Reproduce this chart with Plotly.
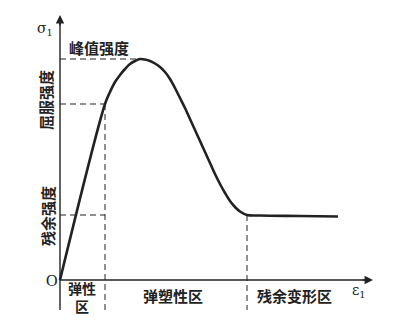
import plotly.graph_objects as go

# Stress-strain curve (units: arbitrary, origin at O)
strain = [0, 45, 50, 55, 60, 65, 70, 75, 80, 85, 90, 95, 100, 105, 110, 115, 120,
          125, 130, 135, 140, 145, 150, 155, 160, 165, 170, 175, 180, 187, 200, 240, 278]
stress = [0, 176, 188, 198, 205, 211, 216, 219, 221, 220.5, 219, 216.5, 213, 208, 201,
          192, 182, 172, 161, 150, 139, 128, 117, 106, 96, 87, 79, 73, 68.5, 65, 64.5, 64, 63.5]

peak = (80, 221)        # 峰值强度
yield_pt = (45, 176)    # 屈服强度
resid = (187, 65)       # 残余强度 start of residual zone
axis_len_x = 313
axis_len_y = 265
label_bottom = -30

ink = "#222222"
cjk = "Noto Sans CJK SC"

fig = go.Figure()
fig.add_trace(go.Scatter(x=strain, y=stress, mode="lines",
                         line=dict(color=ink, width=2.6, shape="spline", smoothing=1.0),
                         hoverinfo="skip", showlegend=False))

shapes = []
# axes
shapes.append(dict(type="line", x0=0, y0=label_bottom, x1=0, y1=axis_len_y - 4,
                   line=dict(color=ink, width=1.4)))
shapes.append(dict(type="line", x0=0, y0=0, x1=axis_len_x - 4, y1=0,
                   line=dict(color=ink, width=1.4)))
dash = dict(color=ink, width=1, dash="6px,4px")
# horizontal dashed
shapes.append(dict(type="line", x0=0, y0=peak[1], x1=peak[0], y1=peak[1], line=dash))
shapes.append(dict(type="line", x0=0, y0=yield_pt[1], x1=yield_pt[0], y1=yield_pt[1], line=dash))
shapes.append(dict(type="line", x0=0, y0=resid[1], x1=yield_pt[0], y1=resid[1], line=dash))
# vertical dashed
shapes.append(dict(type="line", x0=yield_pt[0], y0=yield_pt[1], x1=yield_pt[0], y1=label_bottom, line=dash))
shapes.append(dict(type="line", x0=resid[0], y0=resid[1], x1=resid[0], y1=label_bottom, line=dash))

ann = []
# arrowheads
ann.append(dict(x=0, y=axis_len_y, ax=0, ay=axis_len_y - 12, xref="x", yref="y",
                axref="x", ayref="y", showarrow=True, arrowhead=2, arrowsize=1.2,
                arrowwidth=1.4, arrowcolor=ink, text=""))
ann.append(dict(x=axis_len_x, y=0, ax=axis_len_x - 12, ay=0, xref="x", yref="y",
                axref="x", ayref="y", showarrow=True, arrowhead=2, arrowsize=1.2,
                arrowwidth=1.4, arrowcolor=ink, text=""))

def txt(x, y, t, size=14, font=cjk, angle=0):
    ann.append(dict(x=x, y=y, xref="x", yref="y", text=t, showarrow=False,
                    textangle=angle, font=dict(family=font, size=size, color=ink)))

txt(-15, 251, "σ<sub>1</sub>", size=14, font="DejaVu Serif")
txt(39, 233, "<b>峰值强度</b>", size=15)
txt(-15, 180, "<b>屈服强度</b>", size=15, angle=-90)
txt(-13, 64, "<b>残余强度</b>", size=15, angle=-90)
txt(-8, 0, "O", size=16, font="Liberation Serif")
txt(22, -17, "<b>弹性</b><br><b>区</b>", size=14)
txt(113, -15, "<b>弹塑性区</b>", size=15)
txt(234, -15, "<b>残余变形区</b>", size=15)
txt(299, -11, "ε<sub>1</sub>", size=14, font="DejaVu Serif")

fig.update_layout(
    width=402, height=335, margin=dict(l=0, r=0, t=0, b=0),
    paper_bgcolor="white", plot_bgcolor="white",
    xaxis=dict(range=[-60, 342], visible=False, fixedrange=True),
    yaxis=dict(range=[-55, 280], visible=False, fixedrange=True),
    shapes=shapes, annotations=ann, showlegend=False,
)
fig.write_html("out.html")
